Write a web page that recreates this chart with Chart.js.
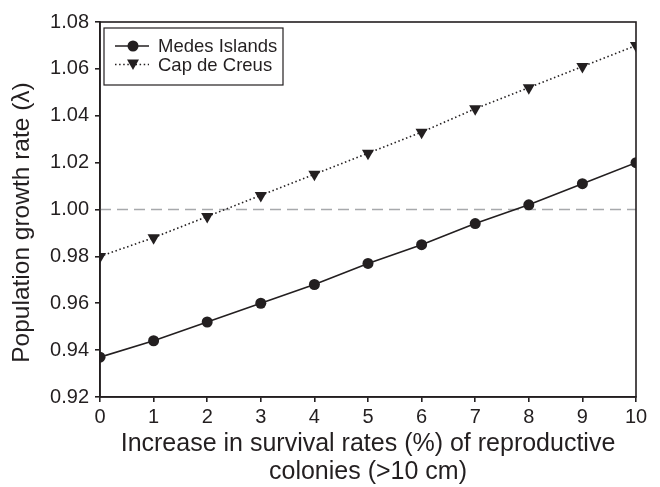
<!DOCTYPE html>
<html><head><meta charset="utf-8">
<script src="https://cdn.jsdelivr.net/npm/chart.js@4/dist/chart.umd.min.js"></script>
<style>html,body{margin:0;padding:0;background:#fff}#wrap{width:660px;height:487px}</style>
</head><body><div id="wrap"><canvas id="c" width="660" height="487"></canvas></div>
<script>
const increase = [0,1,2,3,4,5,6,7,8,9,10];
const medes = [0.937,0.944,0.952,0.960,0.968,0.977,0.985,0.994,1.002,1.011,1.020];
const creus = [0.980,0.988,0.997,1.006,1.015,1.024,1.033,1.043,1.052,1.061,1.070];
const seriesNames = ['Medes Islands','Cap de Creus'];
const refValue = 1.00;
const xTitle = ['Increase in survival rates (%) of reproductive','colonies (>10 cm)'];
const yTitle = 'Population growth rate (\u03bb)';

const FONT = '"Liberation Sans", Arial, Helvetica, sans-serif';
const ink = '#231f20';

const framePlugin = {
  id:'frame',
  beforeDatasetsDraw(chart){
    const {ctx, chartArea:a, scales:{y}} = chart;
    const yp = y.getPixelForValue(refValue);
    ctx.save();
    ctx.strokeStyle = '#a7a9ac'; ctx.lineWidth = 1.5; ctx.setLineDash([11,6]);
    ctx.beginPath(); ctx.moveTo(a.left, yp); ctx.lineTo(a.right, yp); ctx.stroke();
    ctx.restore();
  },
  afterDatasetsDraw(chart){
    const {ctx, chartArea:a} = chart;
    ctx.save();
    ctx.strokeStyle = ink; ctx.lineWidth = 1.6;
    ctx.strokeRect(a.left, a.top, a.right-a.left, a.bottom-a.top);
    // y title
    ctx.save();
    ctx.translate(22, (a.top+a.bottom)/2 + 13);
    ctx.rotate(-Math.PI/2);
    ctx.font = '24.5px '+FONT; ctx.fillStyle = ink; ctx.textAlign='center'; ctx.textBaseline='middle';
    ctx.fillText(yTitle, 0, 0);
    ctx.restore();
    // legend
    const lx = a.left+4, ly = a.top+6, lw = 179, lh = 57;
    ctx.fillStyle='#fff'; ctx.fillRect(lx,ly,lw,lh);
    ctx.lineWidth = 1.2; ctx.strokeStyle = ink; ctx.strokeRect(lx,ly,lw,lh);
    ctx.font = '18.5px '+FONT; ctx.fillStyle = ink; ctx.textBaseline='middle';
    chart.data.datasets.forEach((ds,i)=>{
      const yy = ly + 18 + i*18.5;
      ctx.strokeStyle = ink; ctx.lineWidth = ds.borderWidth;
      ctx.setLineDash(ds.borderDash||[]);
      ctx.beginPath(); ctx.moveTo(lx+11, yy); ctx.lineTo(lx+45, yy); ctx.stroke();
      ctx.setLineDash([]);
      const cx = lx+29;
      ctx.fillStyle = ink;
      if (ds.pointStyle==='circle'){
        ctx.beginPath(); ctx.arc(cx,yy,5.5,0,Math.PI*2); ctx.fill();
      } else {
        ctx.beginPath(); ctx.moveTo(cx-6,yy-5); ctx.lineTo(cx+6,yy-5); ctx.lineTo(cx,yy+5.5); ctx.closePath(); ctx.fill();
      }
      ctx.fillText(ds.label, lx+54, yy+1);
    });
    ctx.restore();
  }
};

new Chart(document.getElementById('c'), {
  type:'line',
  data:{
    datasets:[
      {label:seriesNames[0], data:increase.map((x,i)=>({x, y:medes[i]})), borderColor:ink, backgroundColor:ink,
       borderWidth:1.6, pointStyle:'circle', pointRadius:5.5, pointBorderWidth:0, tension:0},
      {label:seriesNames[1], data:increase.map((x,i)=>({x, y:creus[i]})), borderColor:ink, backgroundColor:ink,
       borderWidth:1.6, borderDash:[1.5,2.6], pointStyle:'triangle', pointRotation:180, pointRadius:7, pointBorderWidth:0, tension:0}
    ]
  },
  options:{
    animation:false, responsive:false, devicePixelRatio:1,
    layout:{padding:{left:0,right:24,top:22,bottom:0}},
    plugins:{legend:{display:false}, tooltip:{enabled:false}},
    scales:{
      x:{type:'linear', min:0, max:10,
        ticks:{stepSize:1, color:ink, font:{family:FONT,size:20}, padding:3, autoSkip:false, maxRotation:0},
        grid:{drawOnChartArea:false, tickLength:5, color:ink, lineWidth:1.6},
        border:{color:ink, width:1.6},
        title:{display:true, text:xTitle, color:ink, font:{family:FONT,size:25, lineHeight:1.12}, padding:{top:0,bottom:1}},
        afterFit(s){ s.height = 90; }
      },
      y:{min:0.92, max:1.08,
        ticks:{stepSize:0.02, color:ink, font:{family:FONT,size:20}, padding:6, callback:v=>v.toFixed(2)},
        grid:{drawOnChartArea:false, tickLength:5, color:ink, lineWidth:1.6},
        border:{color:ink, width:1.6},
        title:{display:false},
        afterFit(s){ s.width = 100; }
      }
    }
  },
  plugins:[framePlugin]
});
</script></body></html>
